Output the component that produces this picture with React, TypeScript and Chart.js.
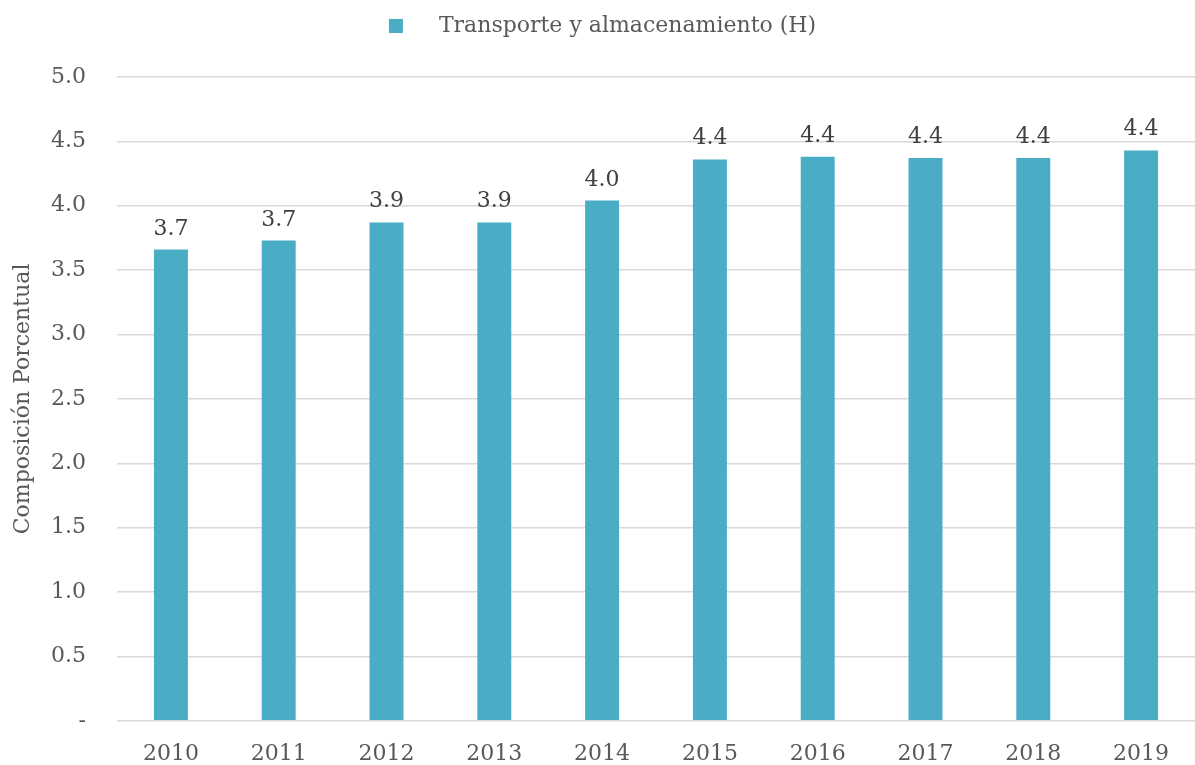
import React, { useEffect, useRef } from "react";
import { Chart, registerables } from "chart.js";

Chart.register(...registerables);

const years = ["2010", "2011", "2012", "2013", "2014", "2015", "2016", "2017", "2018", "2019"];
const values = [3.66, 3.73, 3.87, 3.87, 4.04, 4.36, 4.38, 4.37, 4.37, 4.43];
const seriesLabel = "Transporte y almacenamiento (H)";
const yTitle = "Composición Porcentual";

const FONT = "'DejaVu Serif', serif";
const BAR = "#4BACC6";

const valueLabels = {
  id: "valueLabels",
  afterDatasetsDraw(chart: any) {
    const ctx = chart.ctx;
    const meta = chart.getDatasetMeta(0);
    ctx.save();
    ctx.font = `22px ${FONT}`;
    ctx.fillStyle = "#404040";
    ctx.textAlign = "center";
    ctx.textBaseline = "alphabetic";
    meta.data.forEach((bar: any, i: number) => {
      const v = chart.data.datasets[0].data[i] as number;
      ctx.fillText(v.toFixed(1), bar.x, bar.y - 15);
    });
    ctx.restore();
  },
};

const customLegend = {
  id: "customLegend",
  afterDraw(chart: any) {
    const ctx = chart.ctx;
    ctx.save();
    ctx.font = `22px ${FONT}`;
    const text = chart.data.datasets[0].label;
    const tw = ctx.measureText(text).width;
    const box = 14;
    const gap = 36;
    const total = box + gap + tw;
    const x0 = chart.width / 2 - total / 2 + 5;
    const cy = 26;
    ctx.fillStyle = BAR;
    ctx.fillRect(x0, cy - box / 2, box, box);
    ctx.fillStyle = "#595959";
    ctx.textBaseline = "middle";
    ctx.textAlign = "left";
    ctx.fillText(text, x0 + box + gap, cy);
    ctx.restore();
  },
};

export default function App() {
  const ref = useRef<HTMLCanvasElement>(null);
  useEffect(() => {
    document.body.style.margin = "0";
    const chart = new Chart(ref.current!, {
      type: "bar",
      data: {
        labels: years,
        datasets: [
          {
            label: seriesLabel,
            data: values,
            backgroundColor: BAR,
            barPercentage: 0.315,
            categoryPercentage: 1,
          },
        ],
      },
      options: {
        responsive: false,
        animation: false,
        layout: { padding: { top: 77, left: 0, right: 0, bottom: 0 } },
        plugins: { legend: { display: false }, tooltip: { enabled: false } },
        scales: {
          x: {
            grid: { display: false },
            border: { display: false },
            ticks: { color: "#595959", font: { family: FONT, size: 22 }, padding: 12 },
            afterFit(scale: any) {
              scale.height = 44;
            },
          },
          y: {
            min: 0,
            max: 5,
            border: { display: false },
            grid: { color: "#D9D9D9", lineWidth: 1.5, drawTicks: false },
            ticks: {
              stepSize: 0.5,
              color: "#595959",
              font: { family: FONT, size: 22 },
              padding: 31,
              callback: (v: any) => (Number(v) === 0 ? "-" : Number(v).toFixed(1)),
            },
            title: {
              display: true,
              text: yTitle,
              color: "#595959",
              font: { family: FONT, size: 22 },
              padding: { top: 10, bottom: 0 },
            },
            afterFit(scale: any) {
              scale.width = 117;
            },
          },
        },
      },
      plugins: [valueLabels, customLegend],
    });
    return () => chart.destroy();
  }, []);
  return (
    <div style={{ position: "absolute", left: 0, top: 0, width: 1195, height: 765 }}>
      <canvas ref={ref} width={1195} height={765} />
    </div>
  );
}
